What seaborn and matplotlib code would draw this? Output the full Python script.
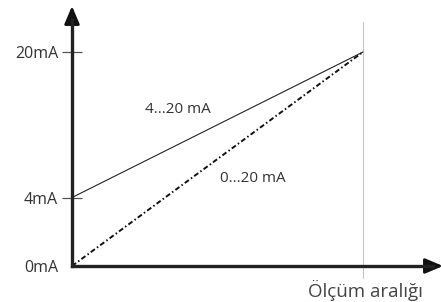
import numpy as np
import pandas as pd
import matplotlib
matplotlib.use("Agg")
import matplotlib.pyplot as plt
import seaborn as sns

# sematik degerler (olcek orantili degil, resimdeki gibi)
span = [0.0, 1.0]                 # olcum araligi basi / sonu
levels_420 = [6.4, 20.0]          # 4...20 mA cizgisi (cizimdeki yukseklik)
levels_020 = [0.0, 20.0]          # 0...20 mA cizgisi
tick_pos = [6.4, 20.0]
tick_labels = ["4mA", "20mA"]

sns.set_theme(style="ticks")
plt.rcParams['font.family'] = ['Open Sans', 'DejaVu Sans']

fig = plt.figure(figsize=(4.41, 3.02), dpi=100)
ax = fig.add_axes([72/441, 36/302, 371/441, 260/302])

df = pd.DataFrame({
    "x": span + span,
    "y": levels_420 + levels_020,
    "seri": ["4...20 mA"] * 2 + ["0...20 mA"] * 2,
})
sns.lineplot(data=df[df.seri == "4...20 mA"], x="x", y="y", ax=ax,
             color="#222222", linewidth=0.8)
sns.lineplot(data=df[df.seri == "0...20 mA"], x="x", y="y", ax=ax,
             color="#111111", linewidth=1.4, linestyle=(0, (2.6, 1.3, 0.8, 1.3)))

ax.set_xlim(0, 1.275)
ax.set_ylim(0, 24.3)

# dikey yardimci cizgi
ax.plot([span[1], span[1]], [-1.1, 22.8], color="#c4c4c4", linewidth=0.8,
        clip_on=False, zorder=1)

for s in ["top", "right"]:
    ax.spines[s].set_visible(False)
for s in ["left", "bottom"]:
    ax.spines[s].set_linewidth(2.4)
    ax.spines[s].set_color("#222222")
    ax.spines[s].set_zorder(5)
ax.spines["left"].set_bounds(0, 23.0)
ax.spines["bottom"].set_bounds(0, 1.24)

# oklar
arw = dict(arrowstyle="-|>,head_length=0.9,head_width=0.38", color="#111111",
           lw=2.0, shrinkA=0, shrinkB=0)
ax.annotate("", xy=(0, 1.0), xytext=(0, 0.93), xycoords="axes fraction",
            arrowprops=arw, annotation_clip=False)
ax.annotate("", xy=(1.0, 0), xytext=(0.95, 0), xycoords="axes fraction",
            arrowprops=arw, annotation_clip=False)

ax.set_yticks([0] + tick_pos)
ax.set_yticklabels(["0mA"] + tick_labels)
ax.tick_params(axis="y", left=True, direction="inout", length=14, width=0.9,
               color="#555555", labelsize=11.5, labelcolor="#333333", pad=3)
ax.yaxis.get_major_ticks()[0].tick1line.set_visible(False)
ax.set_xticks([])
ax.set_xlabel("")
ax.set_ylabel("")

ax.text(0.251, 14.67, "4...20 mA", fontsize=11, color="#333333", va="center")
ax.text(0.509, 8.22, "0...20 mA", fontsize=11, color="#333333", va="center")
ax.text(1.007, -2.3, "Ölçüm aralığı", fontsize=13.5, color="#444444",
        ha="center", va="center", clip_on=False)

fig.savefig("out.png", dpi=100)
